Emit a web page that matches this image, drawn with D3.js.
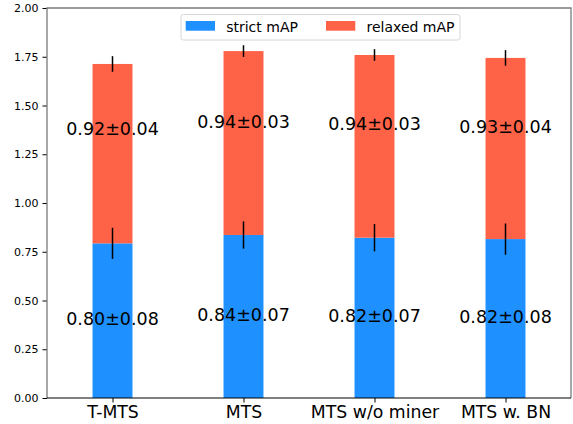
<!DOCTYPE html>
<html>
<head>
<meta charset="utf-8">
<script src="https://cdn.jsdelivr.net/npm/d3@7"></script>
<style>
  body { margin: 0; background: #fff; }
  text { font-family: "DejaVu Sans", sans-serif; }
</style>
</head>
<body>
<div id="chart"></div>
<script>
// data
let categories = ['T-MTS', 'MTS', 'MTS w/o miner', 'MTS w. BN']
let strictMean = [0.793, 0.836, 0.822, 0.815]
let strictErr = [0.08, 0.07, 0.07, 0.08]
let relaxedMean = [0.92, 0.943, 0.937, 0.929]
let relaxedErr = [0.04, 0.03, 0.03, 0.04]
let strictLabels = ['0.80±0.08', '0.84±0.07', '0.82±0.07', '0.82±0.08']
let relaxedLabels = ['0.92±0.04', '0.94±0.03', '0.94±0.03', '0.93±0.04']
let yTicks = [0, 0.25, 0.5, 0.75, 1.0, 1.25, 1.5, 1.75, 2.0]

let width = 573,
    height = 424,
    margin = { top: 8, right: 2, bottom: 26, left: 47 }

let svg = d3.select('#chart').append('svg')
    .attr('width', width)
    .attr('height', height)

let x = d3.scaleLinear()
    .domain([-0.5, categories.length - 0.5])
    .range([margin.left, width - margin.right])

let y = d3.scaleLinear()
    .domain([0, 2])
    .range([height - margin.bottom, margin.top])

let barW = x(0.305) - x(0)

let data = categories.map((c, i) => ({
    name: c, i: i,
    s: strictMean[i], se: strictErr[i],
    r: relaxedMean[i], re: relaxedErr[i],
    sl: strictLabels[i], rl: relaxedLabels[i]
}))

// strict bars
svg.append('g').selectAll('rect')
    .data(data).enter().append('rect')
    .attr('x', d => x(d.i) - barW / 2)
    .attr('width', barW)
    .attr('y', d => y(d.s))
    .attr('height', d => y(0) - y(d.s))
    .attr('fill', '#1e90ff')

// relaxed bars stacked on top
svg.append('g').selectAll('rect')
    .data(data).enter().append('rect')
    .attr('x', d => x(d.i) - barW / 2)
    .attr('width', barW)
    .attr('y', d => y(d.s + d.r))
    .attr('height', d => y(d.s) - y(d.s + d.r))
    .attr('fill', '#ff6347')

// error bars
let errs = svg.append('g').attr('stroke', '#000').attr('stroke-width', 1.5)
errs.selectAll('.es')
    .data(data).enter().append('line')
    .attr('x1', d => x(d.i)).attr('x2', d => x(d.i))
    .attr('y1', d => y(d.s - d.se))
    .attr('y2', d => y(d.s + d.se))
errs.selectAll('.er')
    .data(data).enter().append('line')
    .attr('x1', d => x(d.i)).attr('x2', d => x(d.i))
    .attr('y1', d => y(d.s + d.r - d.re))
    .attr('y2', d => y(d.s + d.r + d.re))

// value labels
let labels = svg.append('g')
    .attr('font-size', '17.5px')
    .attr('text-anchor', 'middle')
    .attr('fill', '#000')
labels.selectAll('.ls')
    .data(data).enter().append('text')
    .attr('x', d => x(d.i))
    .attr('y', d => y(d.s / 2))
    .attr('dy', '0.25em')
    .text(d => d.sl)
labels.selectAll('.lr')
    .data(data).enter().append('text')
    .attr('x', d => x(d.i))
    .attr('y', d => y(d.r * 1.5))
    .attr('dy', '0.36em')
    .text(d => d.rl)

// axes
let yAxis = g => g
    .attr('transform', `translate(${margin.left},0)`)
    .call(d3.axisLeft(y).tickValues(yTicks).tickFormat(d3.format('.2f')).tickSize(4.5).tickPadding(4))
    .call(g => g.select('.domain').remove())
    .call(g => g.selectAll('text').attr('font-size', '11px').attr('fill', '#000'))
svg.append('g').call(yAxis)

let xAxis = g => g
    .attr('transform', `translate(0,${height - margin.bottom})`)
    .call(d3.axisBottom(x).tickValues(d3.range(categories.length)).tickFormat(i => categories[i]).tickSize(4.5).tickPadding(3))
    .call(g => g.select('.domain').remove())
    .call(g => g.selectAll('text').attr('font-size', '17.3px').attr('fill', '#000'))
svg.append('g').call(xAxis)

// frame
let x0 = margin.left, x1 = width - margin.right, y0 = margin.top, y1 = height - margin.bottom
svg.append('path')
    .attr('d', `M${x0},${y1}V${y0}H${x1}V${y1}`)
    .attr('fill', 'none')
    .attr('stroke', '#7a7a7a')
    .attr('stroke-width', 1.3)
svg.append('line')
    .attr('x1', x0).attr('x2', x1)
    .attr('y1', y1).attr('y2', y1)
    .attr('stroke', '#000')
    .attr('stroke-width', 1)

// legend
let legend = svg.append('g').attr('transform', 'translate(181,14.5)')
legend.append('rect')
    .attr('width', 279).attr('height', 25.5)
    .attr('rx', 2.5)
    .attr('fill', '#fff').attr('fill-opacity', 0.8)
    .attr('stroke', '#d6d6d6')
let legendItems = [
    { label: 'strict mAP', color: '#1e90ff', x: 4.7 },
    { label: 'relaxed mAP', color: '#ff6347', x: 145 }
]
legendItems.forEach(it => {
    legend.append('rect')
        .attr('x', it.x).attr('y', 6.5)
        .attr('width', 29.3).attr('height', 9.7)
        .attr('fill', it.color)
    legend.append('text')
        .attr('x', it.x + 40.5).attr('y', 12.8)
        .attr('dy', '0.36em')
        .attr('font-size', '14px')
        .text(it.label)
})
</script>
</body>
</html>
